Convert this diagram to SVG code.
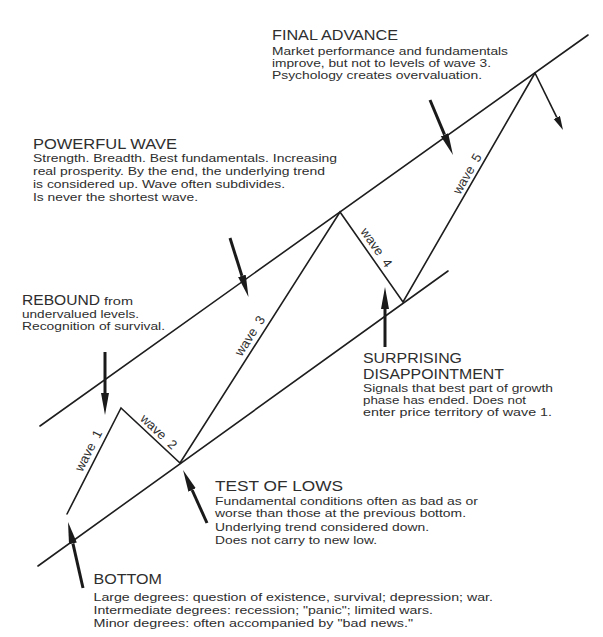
<svg xmlns="http://www.w3.org/2000/svg" width="603" height="637" viewBox="0 0 603 637">
  <style>
    .bg { fill: #ffffff; }
    .ln { fill: none; stroke: #1e1e1e; stroke-width: 1.6; stroke-linecap: round; stroke-linejoin: miter; }
    .arw { fill: none; stroke: #1a1a1a; stroke-width: 3; marker-end: url(#head); }
    .arw-thin { fill: none; stroke: #1a1a1a; stroke-width: 1.6; marker-end: url(#headSmall); }
    text { font-family: "Liberation Sans", Arial, sans-serif; fill: #2e2e2e; }
    .h { font-size: 14px; }
    .h2 { font-size: 14.5px; }
    .h3 { font-size: 15.5px; }
    .b { font-size: 10.5px; }
    .b2 { font-size: 11px; }
    .b3 { font-size: 11.5px; }
    .wl { font-size: 13px; text-anchor: middle; }
  </style>
  <defs>
    <marker id="head" markerUnits="userSpaceOnUse" markerWidth="24" markerHeight="10" refX="0" refY="4" orient="auto">
      <path d="M0,0 L22,4 L0,8 Z" fill="#1a1a1a"/>
    </marker>
    <marker id="headSmall" markerUnits="userSpaceOnUse" markerWidth="16" markerHeight="10" refX="0" refY="3.5" orient="auto">
      <path d="M0,0 L14,3.5 L0,7 Z" fill="#1a1a1a"/>
    </marker>
  </defs>
  <rect class="bg" x="0" y="0" width="603" height="637"/>

  <g id="connectors">
    <line class="ln" x1="40" y1="426" x2="588" y2="35"/>
    <line class="ln" x1="38" y1="566" x2="448" y2="271"/>
    <polyline class="ln" points="67,514 121,408 180,463 340,212 403,302 535,73"/>
    <line class="arw-thin" x1="535" y1="73" x2="556.8" y2="117.4"/>
    <line class="arw" x1="105" y1="352" x2="105" y2="393"/>
    <line class="arw" x1="230" y1="238" x2="241.9" y2="275.9"/>
    <line class="arw" x1="430" y1="100" x2="444.5" y2="134.7"/>
    <line class="arw" x1="385" y1="347" x2="385" y2="309"/>
    <line class="arw" x1="207" y1="523" x2="192.1" y2="490"/>
    <line class="arw" x1="83" y1="588" x2="72.9" y2="543.4"/>
  </g>

  <g id="wave-labels">
    <text class="wl" transform="translate(96.8,455) rotate(-62.8)" dy="-5">wave<tspan dx="7">1</tspan></text>
    <text class="wl" transform="translate(153,437.8) rotate(43)" dy="-4">wave<tspan dx="7">2</tspan></text>
    <text class="wl" transform="translate(257.8,341) rotate(-57.5)" dy="-5">wave<tspan dx="7">3</tspan></text>
    <text class="wl" transform="translate(368.7,253) rotate(55)" dy="-5">wave<tspan dx="7">4</tspan></text>
    <text class="wl" transform="translate(474.5,178) rotate(-60)" dy="-4">wave<tspan dx="7">5</tspan></text>
  </g>

  <g id="final-advance">
    <text class="h" x="272" y="40" textLength="126" lengthAdjust="spacingAndGlyphs">FINAL ADVANCE</text>
    <text class="b" x="272" y="55" textLength="236" lengthAdjust="spacingAndGlyphs">Market performance and fundamentals</text>
    <text class="b" x="272" y="67" textLength="219" lengthAdjust="spacingAndGlyphs">improve, but not to levels of wave 3.</text>
    <text class="b" x="272" y="79" textLength="210" lengthAdjust="spacingAndGlyphs">Psychology creates overvaluation.</text>
  </g>

  <g id="powerful-wave">
    <text class="h2" x="33" y="148.5" textLength="144" lengthAdjust="spacingAndGlyphs">POWERFUL WAVE</text>
    <text class="b2" x="33" y="162" textLength="304" lengthAdjust="spacingAndGlyphs">Strength. Breadth. Best fundamentals. Increasing</text>
    <text class="b2" x="33" y="175" textLength="292" lengthAdjust="spacingAndGlyphs">real prosperity. By the end, the underlying trend</text>
    <text class="b2" x="33" y="188" textLength="252" lengthAdjust="spacingAndGlyphs">is considered up. Wave often subdivides.</text>
    <text class="b2" x="33" y="201" textLength="165" lengthAdjust="spacingAndGlyphs">Is never the shortest wave.</text>
  </g>

  <g id="rebound">
    <text x="22" y="305"><tspan class="h2" textLength="78" lengthAdjust="spacingAndGlyphs">REBOUND</tspan><tspan class="b" dx="4" textLength="29" lengthAdjust="spacingAndGlyphs">from</tspan></text>
    <text class="b" x="22" y="318" textLength="117" lengthAdjust="spacingAndGlyphs">undervalued levels.</text>
    <text class="b" x="22" y="330" textLength="143" lengthAdjust="spacingAndGlyphs">Recognition of survival.</text>
  </g>

  <g id="surprising-disappointment">
    <text class="h2" x="363" y="362.5" textLength="99" lengthAdjust="spacingAndGlyphs">SURPRISING</text>
    <text class="h2" x="363" y="379" textLength="141" lengthAdjust="spacingAndGlyphs">DISAPPOINTMENT</text>
    <text class="b" x="363" y="392" textLength="190" lengthAdjust="spacingAndGlyphs">Signals that best part of growth</text>
    <text class="b" x="363" y="404" textLength="163" lengthAdjust="spacingAndGlyphs">phase has ended. Does not</text>
    <text class="b" x="363" y="416" textLength="189" lengthAdjust="spacingAndGlyphs">enter price territory of wave 1.</text>
  </g>

  <g id="test-of-lows">
    <text class="h3" x="215" y="491" textLength="128" lengthAdjust="spacingAndGlyphs">TEST OF LOWS</text>
    <text class="b2" x="215" y="504.5" textLength="263" lengthAdjust="spacingAndGlyphs">Fundamental conditions often as bad as or</text>
    <text class="b2" x="215" y="517" textLength="251" lengthAdjust="spacingAndGlyphs">worse than those at the previous bottom.</text>
    <text class="b2" x="215" y="530.5" textLength="214" lengthAdjust="spacingAndGlyphs">Underlying trend considered down.</text>
    <text class="b2" x="215" y="544" textLength="162" lengthAdjust="spacingAndGlyphs">Does not carry to new low.</text>
  </g>

  <g id="bottom">
    <text class="h3" x="93.5" y="584" textLength="68.5" lengthAdjust="spacingAndGlyphs">BOTTOM</text>
    <text class="b3" x="93.5" y="600.5" textLength="399.5" lengthAdjust="spacingAndGlyphs">Large degrees: question of existence, survival; depression; war.</text>
    <text class="b3" x="93.5" y="613.5" textLength="339.5" lengthAdjust="spacingAndGlyphs">Intermediate degrees: recession; "panic"; limited wars.</text>
    <text class="b3" x="93.5" y="627" textLength="319.5" lengthAdjust="spacingAndGlyphs">Minor degrees: often accompanied by "bad news."</text>
  </g>
</svg>
